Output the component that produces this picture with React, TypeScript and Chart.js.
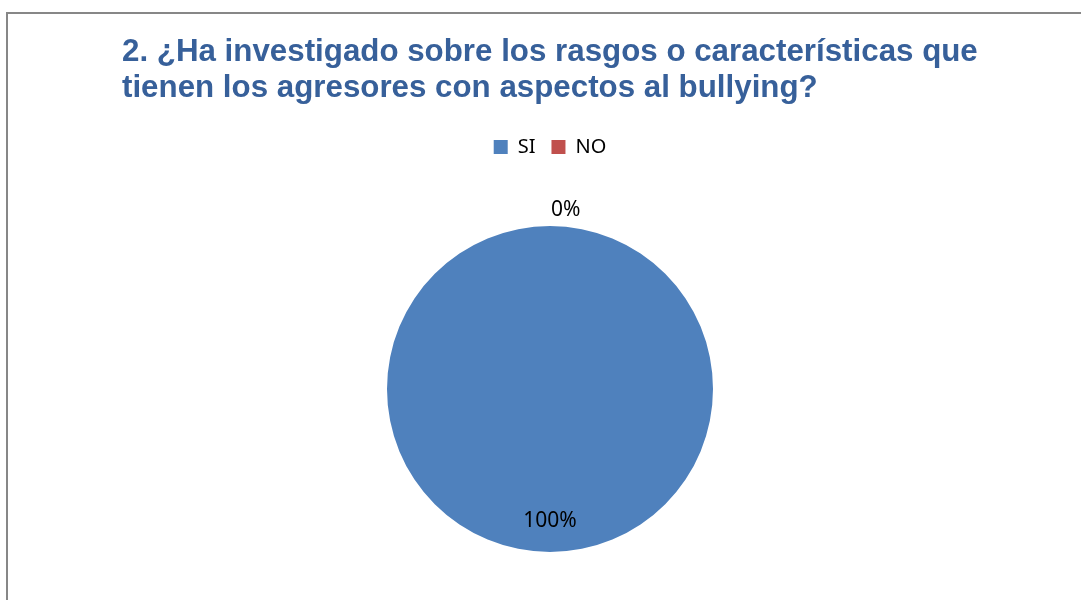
import React, { useEffect, useRef } from "react";
import { Chart, registerables } from "chart.js";

Chart.register(...registerables);

const categories = ["SI", "NO"];
const values = [100, 0];
const colors = ["#4F81BD", "#C0504D"];
const titleLines = [
  "2. ¿Ha investigado sobre los rasgos o características que",
  "tienen los agresores con aspectos al bullying?",
];

const labelPlugin = {
  id: "pieLabels",
  afterDatasetsDraw(chart: any) {
    const ctx = chart.ctx;
    const meta = chart.getDatasetMeta(0);
    const data = chart.data.datasets[0].data as number[];
    const total = data.reduce((a, b) => a + b, 0);
    ctx.save();
    ctx.font = '21px "Noto Sans"';
    ctx.fillStyle = "#000000";
    ctx.textBaseline = "middle";
    meta.data.forEach((arc: any, i: number) => {
      const p = arc.getProps(["x", "y", "startAngle", "endAngle", "outerRadius"], true);
      const mid = (p.startAngle + p.endAngle) / 2;
      const pct = Math.round((data[i] / total) * 100);
      const text = pct + "%";
      const cos = Math.cos(mid);
      const sin = Math.sin(mid);
      if (data[i] === 0) {
        const r = p.outerRadius + 16;
        ctx.textAlign = cos > -0.01 ? "left" : "right";
        ctx.fillText(text, p.x + cos * r + 1, p.y + sin * r);
      } else {
        const r = p.outerRadius * 0.81;
        ctx.textAlign = "center";
        ctx.fillText(text, p.x + cos * r, p.y + sin * r);
      }
    });
    ctx.restore();
  },
};

export default function App() {
  const ref = useRef<HTMLCanvasElement>(null);
  useEffect(() => {
    if (!ref.current) return;
    const chart = new Chart(ref.current, {
      type: "pie",
      data: {
        labels: categories,
        datasets: [
          {
            data: values,
            backgroundColor: colors,
            borderWidth: 0,
          },
        ],
      },
      options: {
        responsive: false,
        animation: false,
        radius: 163,
        layout: { padding: { left: 122, right: 103, top: 0, bottom: 89 } },
        plugins: {
          tooltip: { enabled: false },
          title: {
            display: true,
            text: titleLines,
            align: "start",
            color: "#37609A",
            font: { family: '"Liberation Sans", Arial, sans-serif', size: 31.3, weight: "bold", lineHeight: 36 / 31.3 },
            padding: { top: 34, bottom: 15 },
          },
          legend: {
            display: true,
            position: "top",
            labels: {
              color: "#000000",
              boxWidth: 14,
              boxHeight: 14,
              padding: 16,
              font: { family: '"Noto Sans"', size: 20 },
            },
          },
        },
      },
      plugins: [labelPlugin],
    });
    return () => chart.destroy();
  }, []);
  return (
    <div style={{ position: "fixed", left: 0, top: 0, width: 1081, height: 600, overflow: "hidden", background: "#fff" }}>
      <div
        style={{
          position: "absolute",
          left: 6,
          top: 12,
          width: 1200,
          height: 700,
          borderLeft: "2px solid #878787",
          borderTop: "2px solid #878787",
        }}
      />
      <canvas ref={ref} width={1081} height={700} style={{ position: "absolute", left: 0, top: 0 }} />
    </div>
  );
}
